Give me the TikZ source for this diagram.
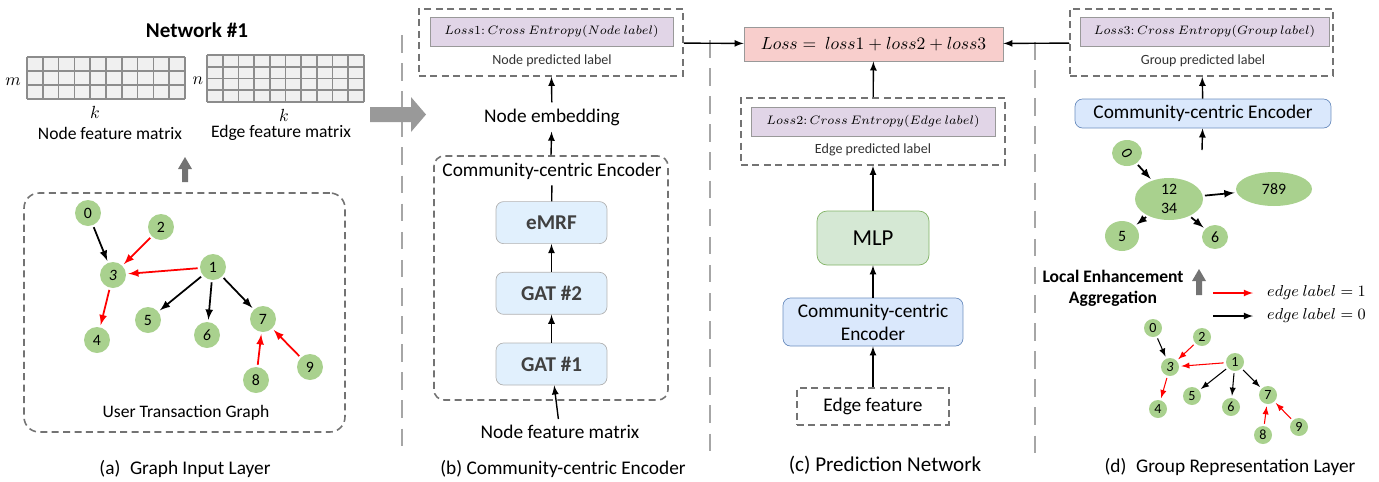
\documentclass[tikz,border=0pt]{standalone}
\usepackage{fontspec}
\setmainfont{Carlito}
\usetikzlibrary{arrows}
\usetikzlibrary{positioning}
\usetikzlibrary{shapes.geometric}

\definecolor{vgreen}{RGB}{169,209,142}
\definecolor{lpurple}{RGB}{225,213,231}
\definecolor{lred}{RGB}{248,206,204}
\definecolor{lblue}{RGB}{218,232,252}
\definecolor{dblue}{RGB}{108,142,191}
\definecolor{pblue}{RGB}{225,240,253}
\definecolor{lgreen}{RGB}{213,232,212}
\definecolor{dgreen}{RGB}{130,179,102}

\begin{document}
\begin{tikzpicture}
[
	x = 0.02cm, y = -0.02cm,
	vtx/.style	= {circle, fill = vgreen, minimum size = 0.52cm, inner sep = 0cm, font = \small},
	svtx/.style	= {vtx, minimum size = 0.36cm, font = \footnotesize},
	gvtx/.style	= {ellipse, fill = vgreen, inner sep = 0cm, font = \small},
	dbox/.style	= {draw = black!55, line width = 0.9pt, dash pattern = on 4pt off 2.5pt},
	lossbox/.style	= {draw = black!40, fill = lpurple, minimum height = 0.58cm, inner sep = 0cm, font = \scriptsize},
	layer/.style	= {draw = black!30, fill = pblue, rounded corners = 0.15cm, minimum width = 2.22cm, minimum height = 0.84cm, font = \large\bfseries\color{black!75}},
	enc/.style	= {draw = dblue, fill = lblue, rounded corners = 0.15cm, align = center, inner sep = 0cm},
	sep/.style	= {draw = black!35, line width = 1.6pt, dash pattern = on 10pt off 6pt},
	cell/.style	= {draw = black!45, line width = 1pt},
	label/.style	= {font = \fontsize{11pt}{13pt}\selectfont},
	comment/.style	= {font = \footnotesize, text = black!80},
	blk/.style	= {-latex, line width = 1pt, shorten > = 0.04cm, shorten < = 0.04cm},
	rd/.style	= {blk, red},
	sblk/.style	= {blk, semithick},
	srd/.style	= {sblk, red},
	flow/.style	= {-latex, thick},
]

	\useasboundingbox (0,0) rectangle (1379,481);

	% separators between the four panels
	\draw [sep] (402,35) -- (402,455);
	\draw [sep] (710,40) -- (710,455);
	\draw [sep] (1035,42) -- (1035,462);

	% (a) graph input layer
	\node (net) [font = \large\bfseries] at (197,30) {Network \#1};
	%
	\fill [black!6] (27,57) rectangle (185,99);
	\foreach \i in {0,...,10} \draw [cell] (27+15.8*\i,57) -- (27+15.8*\i,99);
	\foreach \j in {0,...,3} \draw [cell] (27,57+14*\j) -- (185,57+14*\j);
	\fill [black!6] (207,55) rectangle (364,102);
	\foreach \i in {0,...,10} \draw [cell] (207+15.7*\i,55) -- (207+15.7*\i,102);
	\foreach \j in {0,...,4} \draw [cell] (207,55+11.75*\j) -- (364,55+11.75*\j);
	%
	\node (m) at (13,82) {$m$};
	\node (n) at (198,81) {$n$};
	\node (k1) at (95,112) {$k$};
	\node (k2) at (284,115) {$k$};
	\node (nfm) at (110,133) {Node feature matrix};
	\node (efm) at (281,133) {Edge feature matrix};
	%
	\fill [black!55] (182,182) -- (182,169) -- (178,169) -- (185,157) -- (192,169) -- (188,169) -- (188,182) -- cycle;
	%
	\node (utg) [dbox, rounded corners = 0.3cm, minimum width = 6.42cm, minimum height = 4.78cm] at (184.5,312.5) {};
	\node (a0) [vtx] at (88,213) {0};
	\node (a2) [vtx] at (161,227) {2};
	\node (a3) [vtx] at (113,275) {\itshape 3};
	\node (a1) [vtx] at (213,267) {1};
	\node (a5) [vtx] at (148,320) {5};
	\node (a6) [vtx] at (207,335) {\itshape 6};
	\node (a7) [vtx] at (263,319) {7};
	\node (a4) [vtx] at (97,340) {4};
	\node (a8) [vtx] at (256,380) {8};
	\node (a9) [vtx] at (310,367) {9};
	\node (utgl) at (186,413) {User Transaction Graph};

	\draw [blk] (a0) -- (a3);
	\draw [rd] (a2) -- (a3);
	\draw [rd] (a1) -- (a3);
	\draw [rd] (a3) -- (a4);
	\draw [blk] (a1) -- (a5);
	\draw [blk] (a1) -- (a6);
	\draw [blk] (a1) -- (a7);
	\draw [rd] (a8) -- (a7);
	\draw [rd] (a9) -- (a7);

	\node (capa) [label] at (185,469) {(a)\enspace Graph Input Layer};

	\fill [black!40] (370,107) -- (411,107) -- (411,97) -- (426,114.5) -- (411,132) -- (411,122) -- (370,122) -- cycle;

	% (b) community-centric encoder
	\node (out1) [dbox, minimum width = 5.28cm, minimum height = 1.34cm] at (551,42.5) {};
	\node (loss1) [lossbox, minimum width = 4.86cm] at (551.5,31.5) {$Loss1{:}\,Cross\ Entropy(Node\ label)$};
	\node (npl) [comment] at (552,61) {Node predicted label};
	\node (emb) [label] at (552,117) {Node embedding};
	\node (encb) [dbox, rounded corners = 0.2cm, minimum width = 4.68cm, minimum height = 4.88cm] at (551,278) {};
	\node (encl) [label] at (552,171) {Community-centric Encoder};
	\node (gat1) [layer] at (551.5,364) {GAT \#1};
	\node (gat2) [layer, above = 0.56cm of gat1] {GAT \#2};
	\node (emrf) [layer, above = 0.56cm of gat2] {eMRF};
	\node (nfm2) [label] at (560,432) {Node feature matrix};
	\node (capb) [label] at (563,469) {(b) Community-centric Encoder};

	\draw [flow] (nfm2) -- (gat1);
	\draw [flow] (gat1) -- (gat2);
	\draw [flow] (gat2) -- (emrf);
	\draw [thick] (emrf) -- (encl);
	\draw [flow] (encb.north) -- (emb);
	\draw [flow] (emb) -- (out1);

	% (c) prediction network
	\node (loss) [draw = black!40, fill = lred, minimum width = 5.18cm, minimum height = 0.68cm] at (873.5,44) {$Loss =\ loss1 + loss2 + loss3$};
	\node (out2) [dbox, minimum width = 5.28cm, minimum height = 1.34cm] at (873,131.5) {};
	\node (loss2) [lossbox, minimum width = 4.88cm] at (873,121.5) {$Loss2{:}\,Cross\ Entropy(Edge\ label)$};
	\node (epl) [comment] at (873,150) {Edge predicted label};
	\node (mlp) [draw = dgreen, fill = lgreen, rounded corners = 0.2cm, minimum width = 2.24cm, minimum height = 1.08cm, font = \fontsize{13pt}{15pt}\selectfont] at (873,238) {MLP};
	\node (cce1) [enc, minimum width = 3.6cm, minimum height = 0.96cm, label] at (873,322) {Community-centric\\Encoder};
	\node (ef) [dbox, minimum width = 3.04cm, minimum height = 0.74cm, label] at (873,406.5) {Edge feature};
	\node (capc) [font = \large] at (885,465) {(c) Prediction Network};

	\draw [flow] (ef) -- (cce1);
	\draw [flow] (cce1) -- (mlp);
	\draw [flow] (mlp) -- (out2);
	\draw [flow] (out2) -- (loss);
	\draw [flow] (out1) -- (loss);

	% (d) group representation layer
	\node (out3) [dbox, minimum width = 5.26cm, minimum height = 1.34cm] at (1201.5,42.5) {};
	\node (loss3) [lossbox, minimum width = 4.98cm] at (1204.5,31.5) {$Loss3{:}\,Cross\ Entropy(Group\ label)$};
	\node (gpl) [comment] at (1203,61) {Group predicted label};
	\node (cce2) [enc, minimum width = 5.12cm, minimum height = 0.58cm, label] at (1203,113.5) {Community-centric Encoder};
	\coordinate (gin) at (1202,150);

	\draw [flow] (out3) -- (loss);
	\draw [flow] (cce2) -- (out3);
	\draw [flow] (gin) -- (cce2);

	\node (g0) [gvtx, minimum width = 0.6cm, minimum height = 0.52cm] at (1127,153) {\rotatebox{-60}{0}};
	\node (g1234) [gvtx, minimum width = 1.36cm, minimum height = 0.8cm, align = center] at (1169,199) {12\\34};
	\node (g789) [gvtx, minimum width = 1.52cm, minimum height = 0.68cm] at (1274,189) {789};
	\node (g5) [gvtx, minimum width = 0.68cm, minimum height = 0.6cm] at (1122,236) {5};
	\node (g6) [gvtx, minimum width = 0.52cm, minimum height = 0.48cm] at (1215,237) {6};

	\draw [blk] (g0) -- (g1234);
	\draw [blk] (g1234) -- (g789);
	\draw [blk] (g1234) -- (g5);
	\draw [blk] (g1234) -- (g6);

	\node (lea) [font = \bfseries, align = center] at (1113,288) {Local Enhancement\\Aggregation};
	\fill [black!55] (1196,295) -- (1196,281) -- (1192,281) -- (1199,269) -- (1206,281) -- (1202,281) -- (1202,295) -- cycle;

	\coordinate (r1) at (1213,293);
	\coordinate (r2) at (1253,293);
	\coordinate (b1) at (1213,316);
	\coordinate (b2) at (1253,316);
	\draw [flow, red] (r1) -- (r2);
	\draw [flow] (b1) -- (b2);
	\node (lab1) [anchor = west, font = \small] at (1261,293) {$edge\ label = 1$};
	\node (lab0) [anchor = west, font = \small] at (1261,316) {$edge\ label = 0$};

	\node (d0) [svtx] at (1153,328) {0};
	\node (d2) [svtx] at (1202,337) {2};
	\node (d3) [svtx] at (1170,367) {\itshape 3};
	\node (d1) [svtx] at (1235,362) {1};
	\node (d5) [svtx] at (1192,396) {5};
	\node (d6) [svtx] at (1231,407) {6};
	\node (d7) [svtx] at (1268,395) {7};
	\node (d4) [svtx] at (1158,409) {4};
	\node (d8) [svtx] at (1263,435) {8};
	\node (d9) [svtx] at (1299,427) {9};

	\draw [sblk] (d0) -- (d3);
	\draw [srd] (d2) -- (d3);
	\draw [srd] (d1) -- (d3);
	\draw [srd] (d3) -- (d4);
	\draw [sblk] (d1) -- (d5);
	\draw [sblk] (d1) -- (d6);
	\draw [sblk] (d1) -- (d7);
	\draw [srd] (d8) -- (d7);
	\draw [srd] (d9) -- (d7);

	\node (capd) [label] at (1230,467) {(d)\enspace Group Representation Layer};

\end{tikzpicture}
\end{document}
